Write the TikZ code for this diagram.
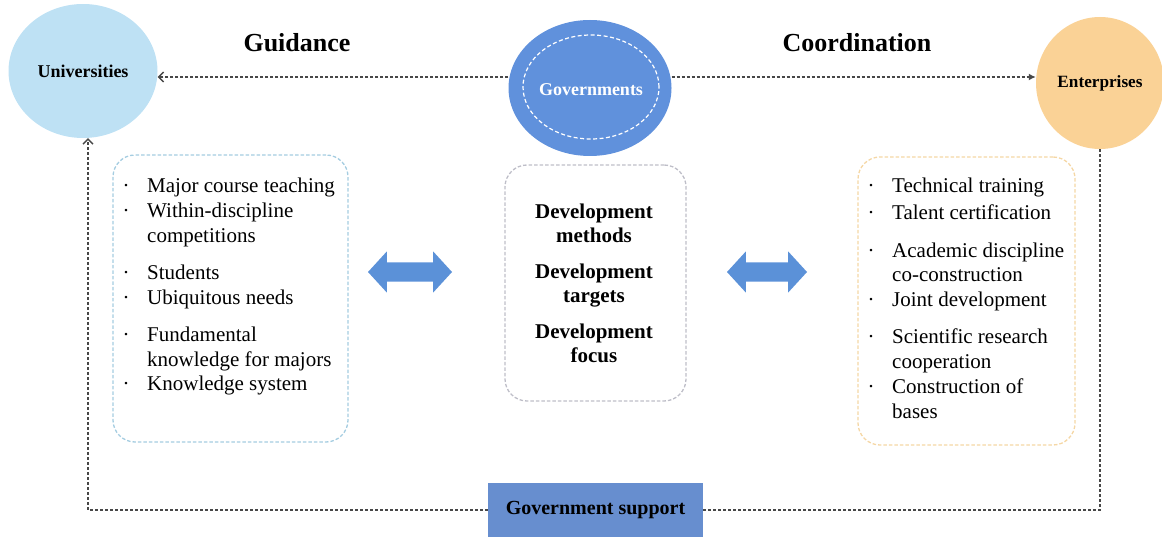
\documentclass[tikz,border=0pt]{standalone}
\usepackage{fontspec}
\setmainfont{Liberation Serif}
\usetikzlibrary{arrows.meta,shapes.geometric,shapes.arrows}

\definecolor{uniblue}{RGB}{190,225,244}
\definecolor{govblue}{RGB}{96,145,220}
\definecolor{supportblue}{RGB}{103,142,207}
\definecolor{entorange}{RGB}{250,210,150}
\definecolor{arrowblue}{RGB}{91,145,216}
\definecolor{panelblue}{RGB}{165,205,225}
\definecolor{panelgray}{RGB}{190,190,200}
\definecolor{panelorange}{RGB}{245,215,165}

\begin{document}
\begin{tikzpicture}[x=1pt,y=-1pt,
  conn/.style={draw=black!72, line width=1.6pt, dash pattern=on 3pt off 2pt},
  actor/.style={ellipse, inner sep=0pt, font=\bfseries},
  heading/.style={font=\bfseries\fontsize{26}{30}\selectfont, inner sep=0pt},
  panel/.style={draw=#1, line width=1.3pt, dash pattern=on 3.5pt off 2pt,
    rounded corners=22pt, inner sep=0pt},
  item/.style={anchor=base west, inner sep=0pt, font=\fontsize{21}{25}\selectfont},
  devtxt/.style={anchor=base, inner sep=0pt, font=\bfseries\fontsize{21}{25}\selectfont},
  dblarrow/.style={double arrow, fill=arrowblue, inner sep=0pt,
    double arrow head extend=11pt, double arrow tip angle=95},
]
\useasboundingbox (0,0) rectangle (1162,537);

% actors
\node[actor, fill=uniblue, minimum width=149pt, minimum height=134pt,
  font=\bfseries\fontsize{18}{20}\selectfont] (uni) at (83,71) {Universities};
\node[actor, fill=govblue, minimum width=163pt, minimum height=136pt] (gov) at (590,88) {};
\node[ellipse, draw=white, line width=1.2pt, dash pattern=on 4pt off 2.5pt,
  minimum width=136pt, minimum height=104pt, inner sep=0pt] (govring) at (591,87) {};
\node[text=white, font=\bfseries\fontsize{18}{20}\selectfont, inner sep=0pt] (govlabel) at (591,90) {Governments};
\node[actor, fill=entorange, minimum width=128pt, minimum height=132pt,
  font=\bfseries\fontsize{17.2}{20}\selectfont] (ent) at (1100,83) {Enterprises};

% headings
\node[heading] (guide) at (297,43) {Guidance};
\node[heading] (coord) at (857,43) {Coordination};

% top connectors
\draw[conn, -{Straight Barb[length=5pt,width=10pt,line width=1.4pt]}]
  ([yshift=11pt]gov.west) -- ([yshift=11pt]gov.west -| uni.east);
\draw[conn, -{Latex[length=7pt,width=7pt]}]
  ([yshift=11pt]gov.east) -- ([yshift=11pt]gov.east -| ent.west);

% panels
\node[panel=panelblue, minimum width=235pt, minimum height=287pt] (leftpanel) at (230.5,298.5) {};
\node[panel=panelgray, minimum width=181pt, minimum height=236pt] (midpanel) at (595.5,283) {};
\node[panel=panelorange, minimum width=217pt, minimum height=288pt] (rightpanel) at (966.5,301) {};

% university side items
\foreach \yy/\txt [count=\i] in {192.5/Major course teaching, 217.5/Within-discipline,
    279.5/Students, 304.5/Ubiquitous needs, 341.5/Fundamental, 390.5/Knowledge system}
  \node[item] (ub\i) at (122.5,\yy) {\makebox[24.5pt][l]{\textperiodcentered}\txt};
\foreach \yy/\txt [count=\i] in {242.5/competitions, 366.5/knowledge for majors}
  \node[item] (uc\i) at (147,\yy) {\txt};

% development items
\foreach \yy/\txt [count=\i] in {219/Development, 243/methods, 279/Development,
    303/targets, 338/Development, 362/focus}
  \node[devtxt] (dv\i) at (594,\yy) {\txt};

% enterprise side items
\foreach \yy/\txt [count=\i] in {193/Technical training, 220/Talent certification,
    258/Academic discipline, 307/Joint development, 344/Scientific research, 393/Construction of}
  \node[item] (eb\i) at (867.5,\yy) {\makebox[24.5pt][l]{\textperiodcentered}\txt};
\foreach \yy/\txt [count=\i] in {282/co-construction, 368/cooperation, 418/bases}
  \node[item] (ec\i) at (892,\yy) {\txt};

% double arrows between panels (shaft thickness set by the strut)
\node[dblarrow, minimum height=84pt] (arrL) at (410,272) {\rule{0pt}{19pt}};
\node[dblarrow, minimum height=80pt] (arrR) at (767,272) {\rule{0pt}{19pt}};

% government support loop
\node[fill=supportblue, minimum width=215pt, minimum height=54pt, inner sep=0pt,
  font=\bfseries\fontsize{20}{22}\selectfont] (support) at (595.5,510) {Government support};
\draw[conn] (ent.south) |- (support.east);
\draw[conn, -{Straight Barb[length=5pt,width=10pt,line width=1.4pt]}]
  (support.west) -| ([xshift=5pt]uni.south);
\end{tikzpicture}
\end{document}
